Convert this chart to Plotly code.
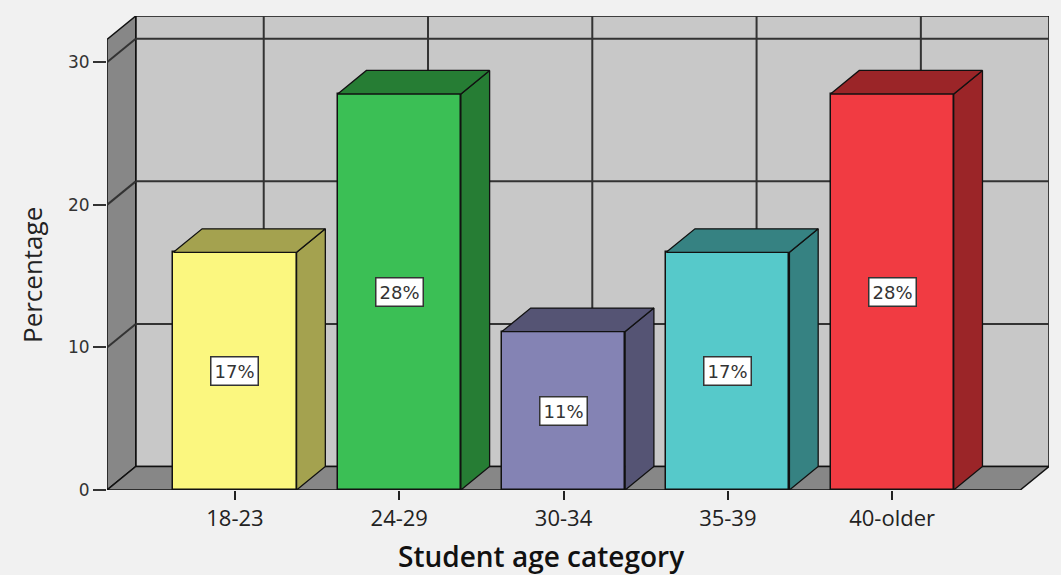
import plotly.graph_objects as go

# ---- data ----
categories = ["18-23", "24-29", "30-34", "35-39", "40-older"]
percent = [16.67, 27.78, 11.11, 16.67, 27.78]
labels = ["17%", "28%", "11%", "17%", "28%"]
y_ticks = [0, 10, 20, 30]

front_colors = ["#fbf77f", "#3bbf55", "#8483b4", "#56c9ca", "#f13b42"]
side_colors = ["#a4a24f", "#267d34", "#555474", "#368282", "#9b2528"]

# ---- 3D geometry (style) ----
DX, DY = 0.175, 1.65
BW = 0.75
X0 = -0.779
X1 = 4.78
XMAX = X1 + DX
YTOP = 31.6
YMAX = YTOP + DY

PAPER = "#f1f1f1"
WALL = "#c8c8c8"
SIDE = "#878787"

fig = go.Figure()

shapes = []
# back wall
shapes.append(dict(type="rect", xref="x", yref="y", x0=X0 + DX, x1=XMAX, y0=DY, y1=YMAX,
                   fillcolor=WALL, line=dict(color="#111", width=1.5), layer="below"))
# left wall
shapes.append(dict(type="path", xref="x", yref="y",
                   path=f"M {X0},0 L {X0},{YTOP} L {X0+DX},{YMAX} L {X0+DX},{DY} Z",
                   fillcolor=SIDE, line=dict(color="#111", width=1.5), layer="below"))
# floor
shapes.append(dict(type="path", xref="x", yref="y",
                   path=f"M {X0},0 L {X1},0 L {XMAX},{DY} L {X0+DX},{DY} Z",
                   fillcolor=SIDE, line=dict(color="#111", width=1.5), layer="below"))
# grid lines
for v in y_ticks[1:]:
    shapes.append(dict(type="line", xref="x", yref="y", x0=X0 + DX, x1=XMAX, y0=v + DY, y1=v + DY,
                       line=dict(color="#333", width=2), layer="below"))
    shapes.append(dict(type="line", xref="x", yref="y", x0=X0, x1=X0 + DX, y0=v, y1=v + DY,
                       line=dict(color="#333", width=2), layer="below"))
for i in range(len(categories)):
    shapes.append(dict(type="line", xref="x", yref="y", x0=i + DX, x1=i + DX, y0=DY, y1=YMAX,
                       line=dict(color="#333", width=2), layer="below"))

# front faces
fig.add_trace(go.Bar(x=list(range(len(categories))), y=percent, width=BW,
                     marker=dict(color=front_colors, line=dict(color="#111", width=1.5)),
                     hoverinfo="skip", showlegend=False))

# side and top faces
for i, v in enumerate(percent):
    xr = i + BW / 2
    xl = i - BW / 2
    fig.add_trace(go.Scatter(x=[xr, xr + DX, xr + DX, xr, xr], y=[0, DY, v + DY, v, 0],
                             fill="toself", fillcolor=side_colors[i], mode="lines",
                             line=dict(color="#111", width=1.3), hoverinfo="skip", showlegend=False))
    fig.add_trace(go.Scatter(x=[xl, xl + DX, xr + DX, xr, xl], y=[v, v + DY, v + DY, v, v],
                             fill="toself", fillcolor=side_colors[i], mode="lines",
                             line=dict(color="#111", width=1.3), hoverinfo="skip", showlegend=False))

annotations = []
for i, (v, t) in enumerate(zip(percent, labels)):
    annotations.append(dict(x=i, y=v / 2, xref="x", yref="y", text=t, showarrow=False,
                            bgcolor="white", bordercolor="#333", borderwidth=1.5, borderpad=3,
                            font=dict(family="DejaVu Sans", size=18, color="#333")))

annotations.append(dict(x=0.4607, y=-0.14, xref="paper", yref="paper", text="Student age category",
                        showarrow=False, xanchor="center", yanchor="middle",
                        font=dict(family="Open Sans", size=28, color="#111", weight=600)))
annotations.append(dict(x=-0.0796, y=0.4536, xref="paper", yref="paper", text="Percentage",
                        showarrow=False, xanchor="center", yanchor="middle", textangle=-90,
                        font=dict(family="Open Sans", size=26, color="#222")))

fig.update_layout(
    width=1061, height=575,
    margin=dict(l=107, r=12, t=16, b=85),
    paper_bgcolor=PAPER, plot_bgcolor=PAPER,
    shapes=shapes, annotations=annotations,
    bargap=0,
    xaxis=dict(range=[X0, XMAX], tickmode="array", tickvals=list(range(len(categories))),
               ticktext=categories, ticks="outside", ticklen=9, tickwidth=2, tickcolor="#222",
               showgrid=False, zeroline=False, showline=False,
               tickfont=dict(family="Open Sans", size=22, color="#222")),
    yaxis=dict(range=[0, YMAX], tickmode="array", tickvals=y_ticks,
               ticks="outside", ticklen=13, tickwidth=2, tickcolor="#333",
               showgrid=False, zeroline=False, showline=False,
               tickfont=dict(family="DejaVu Sans", size=17, color="#333")),
)

fig.write_html("out.html")
